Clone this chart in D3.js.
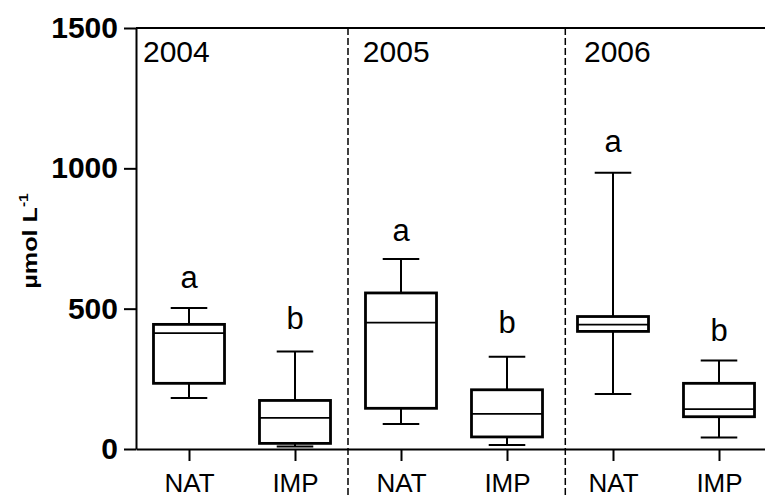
<!DOCTYPE html>
<html>
<head>
<meta charset="utf-8">
<script src="https://cdn.jsdelivr.net/npm/d3@7"></script>
<style>
  body { margin: 0; background: #fff; }
  svg { display: block; font-family: "Liberation Sans", Arial, sans-serif; }
</style>
</head>
<body>
<svg id="vis" width="765" height="495"></svg>
<script>
// box plot data
const categories = ["NAT", "IMP", "NAT", "IMP", "NAT", "IMP"];
const whiskerLow = [182, 9, 89, 14, 196, 41];
const q1 = [234, 20, 145, 43, 419, 115];
const median = [413, 111, 450, 125, 443, 142];
const q3 = [444, 173, 556, 211, 472, 234];
const whiskerHigh = [502, 347, 677, 329, 984, 315];
const letters = ["a", "b", "a", "b", "a", "b"];
const letterY = [575, 429, 742, 414, 1059, 386];
const years = ["2004", "2005", "2006"];
const yearX = [0.566, 2.64, 4.726];
const separators = [2.5, 4.55];
const yTicks = [0, 500, 1000, 1500];

const svg = d3.select("#vis");

const x = d3.scaleLinear().domain([0.5, 6.5]).range([136, 772]);
const y = d3.scaleLinear().domain([0, 1500]).range([449, 28]);
const step = x(2) - x(1);
const boxW = step * 0.67;
const capW = step * 0.345;

const data = categories.map(function(c, i) {
  return {
    pos: i + 1, cat: c, lo: whiskerLow[i], q1: q1[i], med: median[i],
    q3: q3[i], hi: whiskerHigh[i], letter: letters[i], ly: letterY[i]
  };
});

// dashed year separators
svg.selectAll("line.sep")
  .data(separators)
  .enter().append("line")
  .attr("class", "sep")
  .attr("x1", d => x(d)).attr("x2", d => x(d))
  .attr("y1", y(1500)).attr("y2", 495)
  .attr("stroke", "#000")
  .attr("stroke-width", 1.5)
  .attr("stroke-dasharray", "7,3");

// top frame line
svg.append("line")
  .attr("x1", x(0.5)).attr("x2", x(6.5))
  .attr("y1", y(1500)).attr("y2", y(1500))
  .attr("stroke", "#000")
  .attr("stroke-width", 2);

// y axis
const yAxis = svg.append("g")
  .attr("transform", "translate(" + x(0.5) + ",0)")
  .call(d3.axisLeft(y).tickValues(yTicks).tickFormat(d3.format("d"))
    .tickSize(12).tickSizeOuter(0).tickPadding(6));
yAxis.select(".domain").attr("stroke-width", 2);
yAxis.selectAll(".tick line").attr("stroke-width", 2);
yAxis.selectAll(".tick text")
  .attr("font-size", 30)
  .attr("font-weight", "bold")
  .attr("font-family", "Liberation Sans, Arial, sans-serif")
  .attr("fill", "#000");

// x axis
const xAxis = svg.append("g")
  .attr("transform", "translate(0," + y(0) + ")")
  .call(d3.axisBottom(x).tickValues(data.map(d => d.pos))
    .tickFormat((d, i) => categories[i]).tickSize(12).tickSizeOuter(0).tickPadding(13));
xAxis.select(".domain").attr("stroke-width", 2);
xAxis.selectAll(".tick line").attr("stroke-width", 2);
xAxis.selectAll(".tick text")
  .attr("font-size", 26)
  .attr("font-family", "Liberation Sans, Arial, sans-serif")
  .attr("fill", "#000");

// boxes
const g = svg.selectAll("g.box")
  .data(data)
  .enter().append("g")
  .attr("class", "box");

g.append("line")
  .attr("x1", d => x(d.pos)).attr("x2", d => x(d.pos))
  .attr("y1", d => y(d.hi)).attr("y2", d => y(d.q3))
  .attr("stroke", "#000").attr("stroke-width", 2);
g.append("line")
  .attr("x1", d => x(d.pos)).attr("x2", d => x(d.pos))
  .attr("y1", d => y(d.q1)).attr("y2", d => y(d.lo))
  .attr("stroke", "#000").attr("stroke-width", 2);
g.append("line")
  .attr("x1", d => x(d.pos) - capW / 2).attr("x2", d => x(d.pos) + capW / 2)
  .attr("y1", d => y(d.hi)).attr("y2", d => y(d.hi))
  .attr("stroke", "#000").attr("stroke-width", 2);
g.append("line")
  .attr("x1", d => x(d.pos) - capW / 2).attr("x2", d => x(d.pos) + capW / 2)
  .attr("y1", d => y(d.lo)).attr("y2", d => y(d.lo))
  .attr("stroke", "#000").attr("stroke-width", 2);
g.append("rect")
  .attr("x", d => x(d.pos) - boxW / 2)
  .attr("width", boxW)
  .attr("y", d => y(d.q3))
  .attr("height", d => y(d.q1) - y(d.q3))
  .attr("fill", "#fff")
  .attr("stroke", "#000").attr("stroke-width", 2.8);
g.append("line")
  .attr("x1", d => x(d.pos) - boxW / 2).attr("x2", d => x(d.pos) + boxW / 2)
  .attr("y1", d => y(d.med)).attr("y2", d => y(d.med))
  .attr("stroke", "#000").attr("stroke-width", 1.7);

// significance letters
g.append("text")
  .attr("x", d => x(d.pos))
  .attr("y", d => y(d.ly))
  .attr("text-anchor", "middle")
  .attr("font-size", 31)
  .text(d => d.letter);

// year labels
svg.selectAll("text.year")
  .data(years)
  .enter().append("text")
  .attr("class", "year")
  .attr("x", (d, i) => x(yearX[i]))
  .attr("y", 62)
  .attr("font-size", 30)
  .text(d => d);

// y axis title
const title = svg.append("text")
  .attr("transform", "translate(37,241) rotate(-90) scale(1.2,1)")
  .attr("text-anchor", "middle")
  .attr("font-size", 21)
  .attr("font-weight", "bold");
title.append("tspan").text("\u00b5mol L");
title.append("tspan").attr("font-size", 13).attr("dy", -9).text("-1");
</script>
</body>
</html>
